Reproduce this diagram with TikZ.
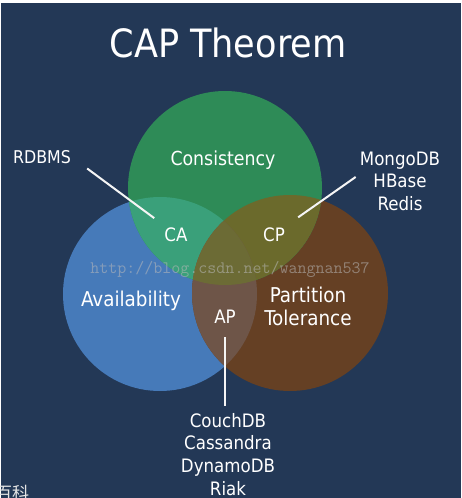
\documentclass[tikz,border=0pt]{standalone}
\usepackage{fontspec}
\setmainfont{DejaVu Sans Condensed}
\newfontfamily\cjkfont{Noto Sans CJK SC}
\definecolor{bgnavy}{RGB}{35,56,86}
\definecolor{cgreen}{RGB}{46,139,87}
\definecolor{cblue}{RGB}{70,122,185}
\definecolor{cbrown}{RGB}{101,64,36}
\definecolor{capairca}{RGB}{58,160,122}
\definecolor{capaircp}{RGB}{107,106,44}
\definecolor{capairap}{RGB}{110,85,72}
\definecolor{capmid}{RGB}{108,107,53}
\begin{document}
\begin{tikzpicture}[x=1pt, y=-1pt,
    every node/.style={text=white, inner sep=0pt},
    lbl/.style={font=\fontsize{18.5}{22.6}\selectfont, align=center, anchor=base},
    link/.style={draw=white!92!gray, line width=2pt}]
  \useasboundingbox (0,0) rectangle (462,498);
  \fill[white] (0,0) rectangle (462,498);
  \fill[bgnavy] (1,3) rectangle (461,498);

  % Three circles
  \fill[cblue] (160,294) circle (97pt);
  \fill[cbrown] (290,293) circle (98pt);
  \fill[cgreen] (225,188) circle (97pt);

  % Overlaps
  \begin{scope}
    \clip (225,188) circle (97pt);
    \fill[capairca] (160,294) circle (97pt);
    \fill[capaircp] (290,293) circle (98pt);
  \end{scope}
  \begin{scope}
    \clip (160,294) circle (97pt);
    \fill[capairap] (290,293) circle (98pt);
    \clip (225,188) circle (97pt);
    \fill[capmid] (290,293) circle (98pt);
  \end{scope}

  % Watermark
  \node[anchor=base, font=\ttfamily\fontsize{17.5}{17.5}\selectfont, text=gray!55, opacity=0.55] (mark) at (230,273) {http://blog.csdn.net/wangnan537};

  % Title and circle names (base = last line)
  \node[anchor=base, font=\fontsize{39}{39}\selectfont] (title) at (228,57) {CAP Theorem};
  \node[lbl, font=\fontsize{19.3}{21}\selectfont] (cons) at (223,165) {Consistency};
  \node[lbl, font=\fontsize{20.4}{22.5}\selectfont] (avail) at (131,306) {Availability};
  \node[lbl, font=\fontsize{20.4}{22.5}\selectfont] (part) at (308,325) {Partition\\Tolerance};

  % Pair labels
  \node[lbl] (ca) at (176,241) {CA};
  \node[lbl] (cp) at (274,241) {CP};
  \node[lbl] (ap) at (225,323) {AP};

  % Systems
  \node[lbl, font=\fontsize{17.6}{22.6}\selectfont] (rdbms) at (42,163) {RDBMS};
  \node[lbl, font=\fontsize{18.5}{22.2}\selectfont] (cpdb) at (400,210) {MongoDB\\HBase\\Redis};
  \node[lbl] (apdb) at (228,495) {CouchDB\\Cassandra\\DynamoDB\\Riak};

  % Connectors
  \draw[link, shorten <=20pt, shorten >=15pt] (rdbms.east) -- (ca);
  \draw[link, shorten <=17pt, shorten >=5pt] (cp) -- (cpdb.170);
  \draw[link, shorten <=14pt, shorten >=7pt] (ap.south) -- (ap.south |- apdb.north);

  % Cut-off text at the corner
  \node[anchor=north west, font=\cjkfont\fontsize{17}{17}\selectfont, text=white!80!gray] (corner) at (-5,485) {百科};
\end{tikzpicture}
\end{document}
